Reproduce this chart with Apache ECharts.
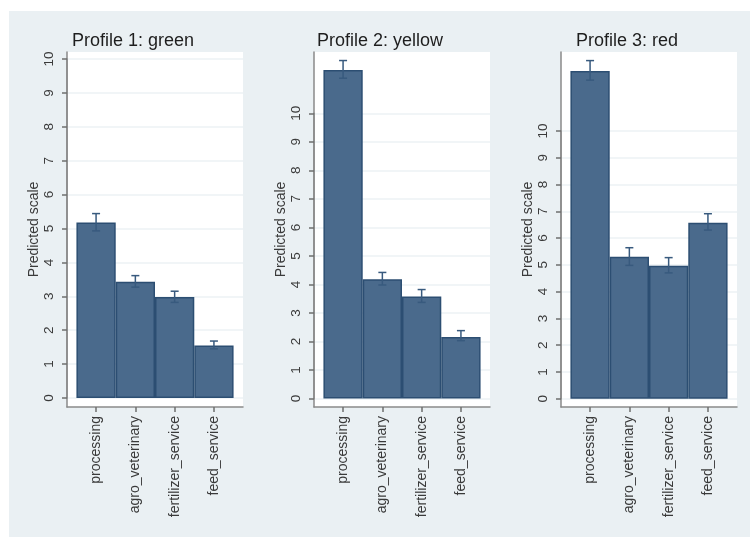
<!DOCTYPE html>
<html>
<head>
<meta charset="utf-8">
<script src="https://cdn.jsdelivr.net/npm/echarts@6/dist/echarts.min.js"></script>
<style>
  html, body { margin: 0; padding: 0; background: #fff; }
  #chart { width: 750px; height: 537px; }
</style>
</head>
<body>
<div id="chart"></div>
<script>
// Predicted scale by service type, one panel per profile
const categories = ['processing', 'agro_veterinary', 'fertilizer_service', 'feed_service'];
const panelTitles = ['Profile 1: green', 'Profile 2: yellow', 'Profile 3: red'];
const yTicks = [0, 1, 2, 3, 4, 5, 6, 7, 8, 9, 10];

// Point estimates and confidence bounds
const profile1 = [5.18, 3.43, 2.98, 1.55];
const profile1Low = [4.93, 3.27, 2.82, 1.45];
const profile1High = [5.44, 3.61, 3.15, 1.68];

const profile2 = [11.52, 4.18, 3.58, 2.16];
const profile2Low = [11.23, 3.98, 3.37, 2.03];
const profile2High = [11.85, 4.42, 3.82, 2.38];

const profile3 = [12.24, 5.30, 4.97, 6.57];
const profile3Low = [11.90, 4.98, 4.70, 6.30];
const profile3High = [12.63, 5.64, 5.27, 6.91];

const values = [profile1, profile2, profile3];
const lows = [profile1Low, profile2Low, profile3Low];
const highs = [profile1High, profile2High, profile3High];

// Layout (pixels)
const H = 537;
const frameLefts = [67, 314, 561];
const frameTop = 52;
const frameBottomY = 407;
const frameWidth = 176;
const zeroY = [398, 398.5, 398.7];   // baseline of the value scale
const tenY = [59, 113.3, 131];       // position of the top labelled tick
const xPad = 0.24;                   // padding beyond the outer bars, in category units
const xMin = -0.5 - xPad;
const xMax = categories.length - 0.5 + xPad;
const bandPx = frameWidth / (xMax - xMin);

const FONT = '"Liberation Sans", Arial, sans-serif';
const BAR_FILL = '#4a6a8c';
const BAR_EDGE = '#2c4e72';
const ERR_COLOR = '#385a7e';
const AXIS_COLOR = '#8a8a8a';
const TICK_COLOR = '#6f6f6f';
const LABEL_COLOR = '#3a3a3a';

const grid = [], xAxis = [], yAxis = [], series = [], title = [];

// Frame grids: white plot region, axis lines, y-axis title
for (let p = 0; p < 3; p++) {
  grid.push({
    left: frameLefts[p], top: frameTop, width: frameWidth,
    height: frameBottomY - frameTop,
    show: true, backgroundColor: '#ffffff', borderWidth: 0
  });
  xAxis.push({
    gridIndex: p, type: 'value', min: 0, max: 1,
    axisLine: { show: true, onZero: false, lineStyle: { color: AXIS_COLOR, width: 1.5 } },
    axisTick: { show: false }, axisLabel: { show: false }, splitLine: { show: false }
  });
  yAxis.push({
    gridIndex: p, type: 'value', min: 0, max: 1,
    name: 'Predicted scale', nameLocation: 'middle', nameGap: 26,
    nameTextStyle: { fontFamily: FONT, fontSize: 14, color: LABEL_COLOR },
    axisLine: { show: true, onZero: false, lineStyle: { color: AXIS_COLOR, width: 1.5 } },
    axisTick: { show: false }, axisLabel: { show: false }, splitLine: { show: false }
  });
  title.push({
    text: panelTitles[p],
    left: frameLefts[p] + frameWidth / 2 - 27,
    top: 27,
    textAlign: 'center',
    textStyle: { fontFamily: FONT, fontSize: 18, fontWeight: 'normal', color: '#1e1e1e' }
  });
}

// Data grids: scales, ticks, gridlines, bars and error bars
for (let p = 0; p < 3; p++) {
  const gi = 3 + p;
  grid.push({
    left: frameLefts[p], width: frameWidth,
    top: tenY[p], height: zeroY[p] - tenY[p]
  });
  xAxis.push({
    gridIndex: gi, type: 'value', min: xMin, max: xMax,
    offset: frameBottomY - zeroY[p],
    axisLine: { show: false, onZero: false },
    axisTick: { show: true, length: 5, customValues: categories.map((c, i) => i),
      lineStyle: { color: TICK_COLOR, width: 1.5 } },
    axisLabel: {
      show: true, rotate: 90, margin: 9, customValues: categories.map((c, i) => i),
      formatter: v => categories[Math.round(v)],
      fontFamily: FONT, fontSize: 14, color: LABEL_COLOR
    },
    splitLine: { show: false }
  });
  yAxis.push({
    gridIndex: gi, type: 'value', position: 'left',
    min: yTicks[0], max: yTicks[yTicks.length - 1], interval: 1,
    axisLine: { show: true, onZero: false, lineStyle: { color: AXIS_COLOR, width: 1.5 } },
    axisTick: { show: true, inside: false, length: 5, lineStyle: { color: TICK_COLOR, width: 1.5 } },
    axisLabel: { show: true, rotate: 90, margin: 11, fontFamily: FONT, fontSize: 13.5, color: LABEL_COLOR },
    splitLine: { show: true, lineStyle: { color: '#edf2f5', width: 1.5 } }
  });
  series.push({
    type: 'bar', xAxisIndex: gi, yAxisIndex: gi,
    clip: false, barWidth: bandPx,
    data: values[p].map((v, i) => [i, v]),
    itemStyle: { color: BAR_FILL, borderColor: BAR_EDGE, borderWidth: 1.5 },
    emphasis: { disabled: true },
    z: 2
  });
  series.push({
    type: 'custom', xAxisIndex: gi, yAxisIndex: gi, clip: false, z: 3,
    data: lows[p].map((lo, i) => [i, lo, highs[p][i]]),
    renderItem: (params, api) => {
      const lo = api.coord([api.value(0), api.value(1)]);
      const hi = api.coord([api.value(0), api.value(2)]);
      const cap = 4;
      const style = { stroke: ERR_COLOR, lineWidth: 1.5 };
      return {
        type: 'group',
        children: [
          { type: 'line', shape: { x1: lo[0], y1: lo[1], x2: hi[0], y2: hi[1] }, style },
          { type: 'line', shape: { x1: hi[0] - cap, y1: hi[1], x2: hi[0] + cap, y2: hi[1] }, style },
          { type: 'line', shape: { x1: lo[0] - cap, y1: lo[1], x2: lo[0] + cap, y2: lo[1] }, style }
        ]
      };
    }
  });
}

const chart = echarts.init(document.getElementById('chart'), null, { renderer: 'canvas' });
chart.setOption({
  backgroundColor: '#eaf0f3',
  animation: false,
  graphic: [
    { type: 'rect', shape: { x: 0, y: 0, width: 750, height: 11 }, style: { fill: '#ffffff' }, silent: true },
    { type: 'rect', shape: { x: 0, y: 0, width: 9, height: H }, style: { fill: '#ffffff' }, silent: true }
  ],
  title, grid, xAxis, yAxis, series
});
</script>
</body>
</html>
